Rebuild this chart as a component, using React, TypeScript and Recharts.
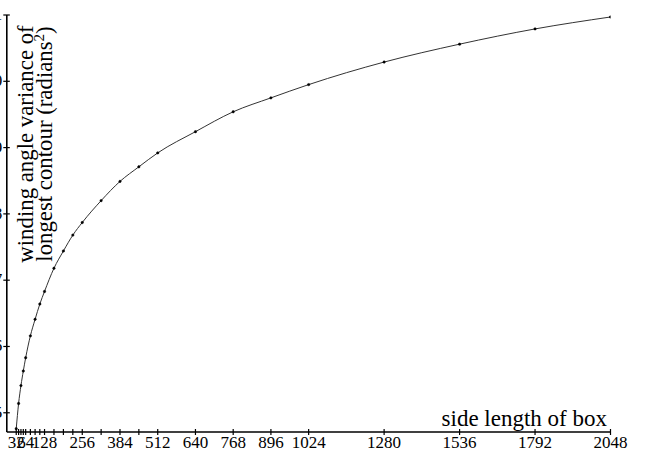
import React from 'react'
import { LineChart, Line, XAxis, YAxis, Label } from 'recharts'

// box side lengths (data samples, also the x ticks)
const sizes = [32, 40, 48, 56, 64, 80, 96, 112, 128, 160, 192, 224, 256, 320, 384, 448, 512, 640, 768, 896, 1024, 1280, 1536, 1792, 2048]
// winding angle variance of the longest contour, radians^2
const variance = [4.76, 5.14, 5.41, 5.63, 5.83, 6.16, 6.41, 6.64, 6.83, 7.18, 7.44, 7.68, 7.87, 8.2, 8.49, 8.71, 8.92, 9.24, 9.54, 9.75, 9.95, 10.29, 10.56, 10.79, 10.97]

const xLabelled = [32, 64, 128, 256, 384, 512, 640, 768, 896, 1024, 1280, 1536, 1792, 2048]
const yTicks = [5, 6, 7, 8, 9, 10, 11]

const data = sizes.map((size, i) => ({ size, variance: variance[i] }))

const FONT = '"Liberation Serif", "DejaVu Serif", serif'

function XTick(props: any) {
  const { x, y, payload } = props
  const show = xLabelled.includes(payload.value)
  return (
    <g>
      <line x1={x} x2={x} y1={y - 3} y2={y + 3} stroke="#000" strokeWidth={1.2} />
      {show && (
        <text x={x} y={y + 16} textAnchor="middle" fontFamily={FONT} fontSize={17} fill="#000">
          {payload.value}
        </text>
      )}
    </g>
  )
}

function YTick(props: any) {
  const { x, y, payload } = props
  return (
    <g>
      <line x1={x - 3.5} x2={x + 3} y1={y} y2={y} stroke="#000" strokeWidth={1.2} />
      <text x={x - 4.5} y={y + 5} textAnchor="end" fontFamily={FONT} fontSize={17} fill="#000">
        {payload.value}
      </text>
    </g>
  )
}

function YTitle() {
  const cy = 144
  return (
    <g fontFamily={FONT} fontSize={22.8} fill="#000">
      <text x={32.5} y={cy} textAnchor="middle" transform={`rotate(-90, 32.5, ${cy})`}>
        winding angle variance of
      </text>
      <text x={51.5} y={cy} textAnchor="middle" transform={`rotate(-90, 51.5, ${cy})`}>
        longest contour (radians<tspan dy={-8} fontSize={15}>2</tspan><tspan dy={8}>)</tspan>
      </text>
    </g>
  )
}

function XTitle() {
  return (
    <text x={607} y={426} textAnchor="end" fontFamily={FONT} fontSize={23} fill="#000">
      side length of box
    </text>
  )
}

export default function App() {
  return (
    <div style={{ position: 'absolute', left: 0, top: 0, width: 645, height: 450, background: '#fff', overflow: 'hidden' }}>
      <LineChart width={645} height={450} data={data} margin={{ top: 15, right: 34.5, bottom: 0, left: 5.8 }}>
        <XAxis
          dataKey="size"
          type="number"
          domain={[0, 2048]}
          ticks={sizes}
          interval={0}
          height={18}
          tickSize={0}
          tickMargin={0}
          tick={<XTick />}
          axisLine={{ stroke: '#000', strokeWidth: 1.6 }}
          allowDataOverflow
        >
          <Label content={<XTitle />} />
        </XAxis>
        <YAxis
          type="number"
          domain={[4.71, 11]}
          ticks={yTicks}
          interval={0}
          width={1}
          tickSize={0}
          tickMargin={0}
          tick={<YTick />}
          axisLine={{ stroke: '#000', strokeWidth: 1.6 }}
          allowDataOverflow
        >
          <Label content={<YTitle />} />
        </YAxis>
        <Line
          dataKey="variance"
          type="monotone"
          stroke="#333"
          strokeWidth={1}
          dot={{ r: 1.2, fill: '#000', stroke: '#000', strokeWidth: 0.5 }}
          isAnimationActive={false}
        />
      </LineChart>
    </div>
  )
}
